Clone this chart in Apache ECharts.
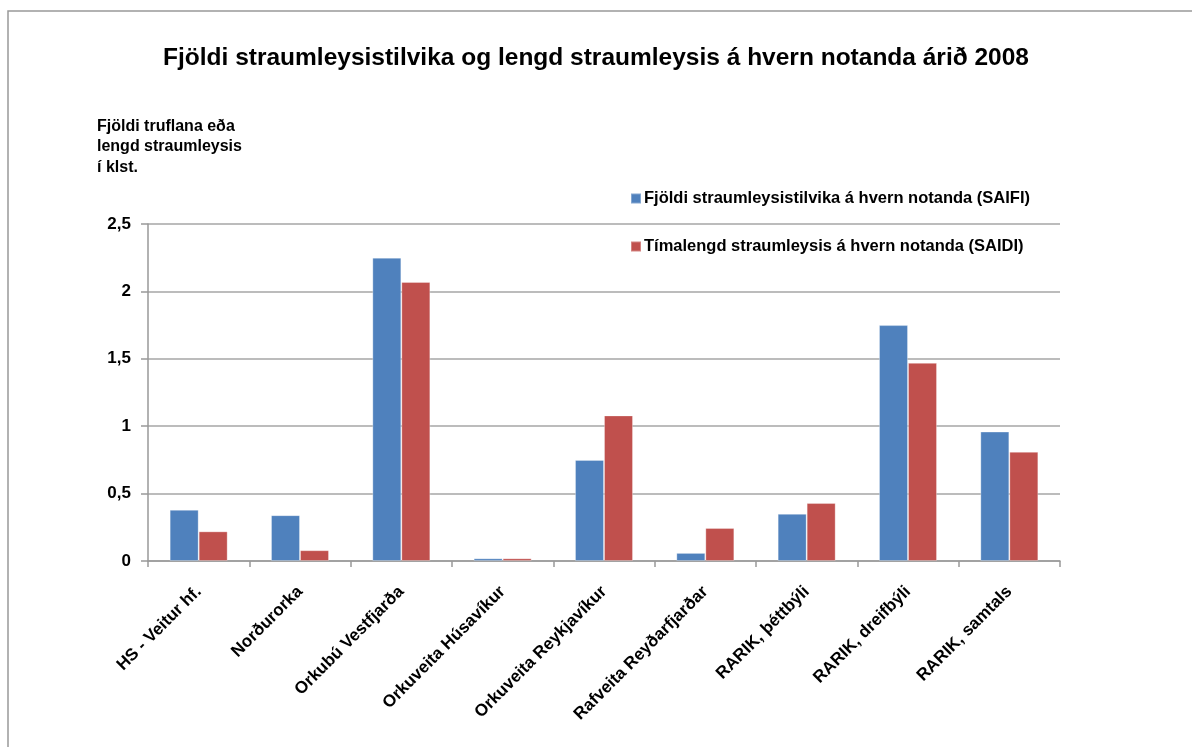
<!DOCTYPE html>
<html>
<head>
<meta charset="utf-8">
<script src="https://cdn.jsdelivr.net/npm/echarts@6/dist/echarts.min.js"></script>
<style>
  html, body { margin: 0; padding: 0; background: #fff; }
  #chart { width: 1192px; height: 747px; }
</style>
</head>
<body>
<div id="chart"></div>
<script>
const categories = [
  'HS - Veitur hf.', 'Norðurorka', 'Orkubú Vestfjarða', 'Orkuveita Húsavíkur',
  'Orkuveita Reykjavíkur', 'Rafveita Reyðarfjarðar', 'RARIK, þéttbýli',
  'RARIK, dreifbýli', 'RARIK, samtals'
];
const saifi = [0.38, 0.34, 2.25, 0.02, 0.75, 0.06, 0.35, 1.75, 0.96];
const saidi = [0.22, 0.08, 2.07, 0.02, 1.08, 0.245, 0.43, 1.47, 0.81];
const seriesNames = [
  'Fjöldi straumleysistilvika á hvern notanda (SAIFI)',
  'Tímalengd straumleysis á hvern notanda (SAIDI)'
];

const fillChart = () => {
  const dom = document.getElementById('chart');
  const myChart = echarts.init(dom);
  const font = 'Liberation Sans';

  const option = {
    animation: false,
    textStyle: { fontFamily: font },
    title: {
      text: 'Fjöldi straumleysistilvika og lengd straumleysis á hvern notanda árið 2008',
      left: 'center',
      top: 41,
      textStyle: { fontSize: 24.5, fontWeight: 'bold', color: '#000' }
    },
    graphic: [
      {
        type: 'rect',
        shape: { x: 8, y: 11, width: 1300, height: 800 },
        style: { fill: 'none', stroke: '#999', lineWidth: 1.5 },
        silent: true
      },
      {
        type: 'text',
        left: 97,
        top: 116,
        style: {
          text: 'Fjöldi truflana eða\nlengd straumleysis\ní klst.',
          font: 'bold 16px ' + font,
          lineHeight: 20.5,
          fill: '#000'
        }
      }
    ],
    legend: {
      orient: 'vertical',
      left: 625,
      top: 185,
      itemGap: 31,
      itemWidth: 10,
      itemHeight: 10,
      icon: 'rect',
      textStyle: { fontSize: 16.5, fontWeight: 'bold', color: '#000', padding: [0, 0, 0, -2] },
      data: seriesNames
    },
    grid: { left: 148, right: 132, top: 224, bottom: 186 },
    xAxis: {
      type: 'category',
      data: categories,
      axisLine: { lineStyle: { color: '#999', width: 1.5 } },
      axisTick: { show: true, length: 6, lineStyle: { color: '#999', width: 1.5 } },
      axisLabel: {
        interval: 0,
        rotate: 45,
        margin: 28,
        fontSize: 17,
        fontWeight: 'bold',
        color: '#000'
      }
    },
    yAxis: {
      type: 'value',
      min: 0,
      max: 2.5,
      interval: 0.5,
      axisLine: { show: true, lineStyle: { color: '#999', width: 1.5 } },
      axisTick: { show: true, length: 7, lineStyle: { color: '#999', width: 1.5 } },
      splitLine: { lineStyle: { color: '#a6a6a6', width: 1.5 } },
      axisLabel: {
        margin: 17,
        fontSize: 17,
        fontWeight: 'bold',
        color: '#000',
        formatter: v => String(v).replace('.', ',')
      }
    },
    series: [
      {
        name: seriesNames[0],
        type: 'bar',
        data: saifi,
        barWidth: 29,
        barGap: '0%',
        itemStyle: { color: '#4F81BD', borderColor: 'rgba(255,255,255,0.3)', borderWidth: 1 }
      },
      {
        name: seriesNames[1],
        type: 'bar',
        data: saidi,
        barWidth: 29,
        barGap: '0%',
        itemStyle: { color: '#C0504D', borderColor: 'rgba(255,255,255,0.3)', borderWidth: 1 }
      }
    ]
  };

  myChart.setOption(option);
};

window.onload = function () {
  fillChart();
};
</script>
</body>
</html>
